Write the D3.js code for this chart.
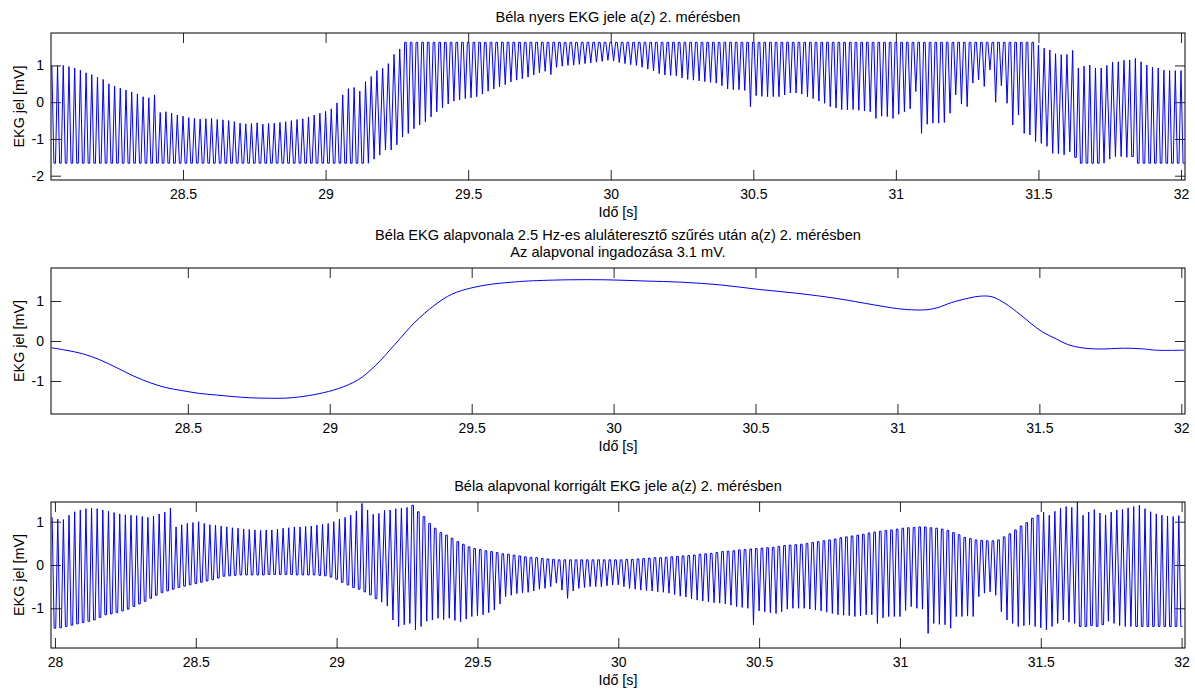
<!DOCTYPE html>
<html>
<head>
<meta charset="utf-8">
<script src="https://cdn.jsdelivr.net/npm/d3@7"></script>
<style>
  body { margin: 0; background: #fff; }
  svg { display: block; }
  text { font-family: "Liberation Sans", Arial, Helvetica, sans-serif; fill: #000; }
</style>
</head>
<body>
<svg id="chart" width="1195" height="693"></svg>
<script>
// ---------------- DATA ----------------
// Mains-dominated raw EKG: one peak and one trough per 20 ms cycle.
const cyclePeriod = 0.02;          // s
const rawStart = 28.04;            // time of first raw peak [s]
const rawClipHigh = 1.62;          // amplifier saturation levels seen in the raw trace
const rawClipLow = -1.65;
const rawPeaks = [
  0.99, 1.0, 1.0, 0.97, 0.93, 0.87, 0.8, 0.75, 0.68, 0.62,
  0.5, 0.44, 0.38, 0.33, 0.28, 0.22, 0.15, 0.12, 0.2, -0.28,
  -0.26, -0.3, -0.35, -0.38, -0.42, -0.44, -0.46, -0.45, -0.44, -0.47,
  -0.48, -0.5, -0.53, -0.57, -0.59, -0.58, -0.56, -0.6, -0.58, -0.57,
  -0.55, -0.53, -0.5, -0.47, -0.45, -0.4, -0.35, -0.3, -0.25, -0.18,
  -0.02, 0.2, 0.37, 0.4, 0.3, 0.56, 0.7, 0.86, 0.92, 1.05,
  1.3, 1.45, 1.63, 1.63, 1.63, 1.63, 1.63, 1.63, 1.63, 1.63,
  1.63, 1.63, 1.63, 1.63, 1.63, 1.63, 1.63, 1.63, 1.63, 1.63,
  1.63, 1.63, 1.63, 1.63, 1.63, 1.63, 1.63, 1.63, 1.63, 1.63,
  1.63, 1.63, 1.63, 1.63, 1.63, 1.63, 1.63, 1.63, 1.63, 1.63,
  1.63, 1.63, 1.63, 1.63, 1.63, 1.63, 1.63, 1.63, 1.63, 1.63,
  1.63, 1.63, 1.63, 1.63, 1.63, 1.63, 1.63, 1.63, 1.63, 1.63,
  1.63, 1.63, 1.63, 1.63, 1.63, 1.63, 1.63, 1.63, 1.63, 1.63,
  1.63, 1.63, 1.63, 1.63, 1.63, 1.63, 1.63, 1.63, 1.63, 1.63,
  1.63, 1.63, 1.63, 1.63, 1.63, 1.63, 1.63, 1.63, 1.63, 1.63,
  1.63, 1.63, 1.63, 1.63, 1.63, 1.63, 1.63, 1.63, 1.63, 1.63,
  1.63, 1.63, 1.63, 1.63, 1.63, 1.63, 1.63, 1.63, 1.63, 1.63,
  1.63, 1.63, 1.63, 1.55, 1.47, 1.42, 1.32, 1.29, 1.3, 1.41,
  0.93, 0.98, 1.01, 0.93, 0.93, 1.0, 1.09, 1.1, 1.14, 1.15,
  1.19, 1.1, 1.01, 0.95, 0.93, 0.87, 0.86, 0.86, 0.86
];
const rawTroughs = [
  -1.66, -1.66, -1.66, -1.66, -1.66, -1.66, -1.66, -1.66, -1.66, -1.66,
  -1.66, -1.66, -1.66, -1.66, -1.66, -1.66, -1.66, -1.66, -1.66, -1.66,
  -1.66, -1.66, -1.66, -1.66, -1.66, -1.66, -1.66, -1.66, -1.66, -1.66,
  -1.66, -1.66, -1.66, -1.66, -1.66, -1.66, -1.66, -1.66, -1.66, -1.66,
  -1.66, -1.66, -1.66, -1.66, -1.66, -1.66, -1.66, -1.66, -1.66, -1.66,
  -1.66, -1.66, -1.66, -1.66, -1.66, -1.66, -1.55, -1.44, -1.3, -1.3,
  -1.16, -0.95, -0.85, -0.72, -0.62, -0.53, -0.4, -0.26, -0.15, -0.05,
  0.03, 0.06, 0.1, 0.12, 0.15, 0.22, 0.3, 0.36, 0.42, 0.48,
  0.55, 0.6, 0.64, 0.68, 0.74, 0.8, 0.84, 0.75, 0.95, 0.98,
  1.0, 1.01, 1.03, 1.05, 1.07, 1.09, 1.11, 1.14, 1.12, 1.08,
  1.05, 1.02, 1.0, 0.95, 0.9, 0.85, 0.78, 0.74, 0.73, 0.72,
  0.66, 0.62, 0.6, 0.58, 0.56, 0.54, 0.52, 0.45, 0.36, 0.34,
  0.34, 0.32, -0.12, 0.18, 0.16, 0.15, 0.15, 0.15, 0.2, 0.25,
  0.25, 0.22, 0.15, 0.1, 0.03, -0.03, -0.12, -0.16, -0.2, -0.21,
  -0.2, -0.22, -0.24, -0.26, -0.44, -0.38, -0.39, -0.44, -0.33, -0.26,
  -0.18, 0.29, -0.85, -0.6, -0.57, -0.57, -0.55, -0.3, 0.2, -0.05,
  -0.12, 0.52, 0.61, 0.43, 0.88, 0.0, 0.45, -0.03, -0.62, -0.35,
  -0.85, -0.89, -1.07, -1.12, -1.2, -1.39, -1.4, -1.43, -1.35, -1.5,
  -1.66, -1.66, -1.66, -1.66, -1.66, -1.55, -1.48, -1.48, -1.5, -1.48,
  -1.66, -1.66, -1.66, -1.66, -1.66, -1.66, -1.66, -1.66, -1.66
];

// Baseline after 2.5 Hz low-pass filtering
const baseTimes = [
  28.02, 28.07, 28.13, 28.19, 28.25, 28.31, 28.37, 28.42, 28.48, 28.54,
  28.6, 28.66, 28.72, 28.78, 28.84, 28.89, 28.96, 29.03, 29.1, 29.16,
  29.23, 29.3, 29.37, 29.43, 29.5, 29.57, 29.64, 29.7, 29.84, 29.97,
  30.11, 30.24, 30.38, 30.51, 30.65, 30.78, 30.92, 31.0, 31.05, 31.1,
  31.14, 31.19, 31.25, 31.29, 31.33, 31.37, 31.42, 31.47, 31.51, 31.56,
  31.6, 31.65, 31.71, 31.8, 31.87, 31.91, 32.01
];
const baseValues = [
  -0.17, -0.23, -0.32, -0.47, -0.67, -0.88, -1.05, -1.16, -1.24, -1.31,
  -1.35, -1.39, -1.42, -1.43, -1.43, -1.4, -1.32, -1.19, -0.97, -0.62,
  -0.08, 0.47, 0.9, 1.17, 1.33, 1.42, 1.47, 1.5, 1.53, 1.53,
  1.5, 1.47, 1.4, 1.29, 1.19, 1.07, 0.9, 0.81, 0.78, 0.78,
  0.83, 0.96, 1.07, 1.12, 1.11, 0.98, 0.73, 0.44, 0.23, 0.05,
  -0.09, -0.17, -0.2, -0.18, -0.2, -0.23, -0.23
];

// Baseline-corrected EKG
const corrStart = 27.99;           // time of first corrected peak [s]
const corrPeaks = [
  1.1, 1.06, 1.05, 1.15, 1.23, 1.27, 1.3, 1.31, 1.3, 1.27,
  1.24, 1.21, 1.18, 1.16, 1.15, 1.14, 1.12, 1.1, 1.13, 1.18,
  1.22, 1.31, 0.88, 0.93, 0.96, 0.98, 1.0, 0.96, 0.93, 0.92,
  0.9, 0.88, 0.86, 0.85, 0.83, 0.82, 0.81, 0.8, 0.81, 0.81,
  0.83, 0.85, 0.86, 0.88, 0.88, 0.89, 0.9, 0.92, 0.94, 0.96,
  1.0, 1.06, 1.1, 1.15, 1.25, 1.42, 1.27, 1.17, 1.19, 1.26,
  1.27, 1.3, 1.31, 1.33, 1.38, 1.23, 1.12, 0.96, 0.85, 0.75,
  0.69, 0.62, 0.54, 0.48, 0.42, 0.38, 0.36, 0.33, 0.31, 0.29,
  0.26, 0.25, 0.23, 0.21, 0.19, 0.18, 0.17, 0.15, 0.14, 0.13,
  0.12, 0.12, 0.12, 0.12, 0.12, 0.12, 0.12, 0.12, 0.12, 0.12,
  0.12, 0.12, 0.13, 0.13, 0.14, 0.15, 0.16, 0.17, 0.17, 0.18,
  0.19, 0.2, 0.21, 0.22, 0.23, 0.25, 0.26, 0.27, 0.29, 0.31,
  0.32, 0.33, 0.35, 0.36, 0.37, 0.38, 0.39, 0.4, 0.41, 0.43,
  0.45, 0.46, 0.47, 0.48, 0.5, 0.52, 0.54, 0.56, 0.58, 0.6,
  0.63, 0.65, 0.67, 0.69, 0.71, 0.74, 0.76, 0.78, 0.8, 0.81,
  0.83, 0.85, 0.86, 0.87, 0.88, 0.88, 0.86, 0.85, 0.83, 0.8,
  0.75, 0.7, 0.64, 0.61, 0.58, 0.57, 0.56, 0.56, 0.58, 0.65,
  0.72, 0.81, 0.9, 0.98, 1.08, 1.15, 1.22, 1.15, 1.24, 1.31,
  1.35, 1.33, 1.46, 1.15, 1.22, 1.28, 1.2, 1.15, 1.22, 1.27,
  1.28, 1.32, 1.35, 1.38, 1.3, 1.23, 1.18, 1.15, 1.13, 1.12,
  1.14
];
const corrTroughs = [
  -1.46, -1.45, -1.42, -1.39, -1.36, -1.33, -1.3, -1.27, -1.21, -1.15,
  -1.13, -1.1, -1.06, -1.02, -0.96, -0.9, -0.84, -0.77, -0.7, -0.64,
  -0.6, -0.56, -0.52, -0.49, -0.46, -0.43, -0.4, -0.37, -0.34, -0.3,
  -0.26, -0.25, -0.24, -0.23, -0.23, -0.23, -0.23, -0.23, -0.22, -0.22,
  -0.22, -0.22, -0.22, -0.23, -0.23, -0.23, -0.23, -0.24, -0.25, -0.28,
  -0.33, -0.4, -0.46, -0.52, -0.56, -0.62, -0.69, -0.78, -0.86, -0.95,
  -1.27, -1.42, -1.38, -1.35, -1.5, -1.42, -1.3, -1.27, -1.23, -1.26,
  -1.23, -1.28, -1.31, -1.25, -1.19, -1.17, -1.15, -1.1, -1.04, -0.9,
  -0.73, -0.7, -0.66, -0.64, -0.63, -0.6, -0.56, -0.54, -0.5, -0.42,
  -0.58, -0.77, -0.6, -0.54, -0.52, -0.5, -0.5, -0.5, -0.48, -0.46,
  -0.46, -0.5, -0.54, -0.56, -0.58, -0.59, -0.6, -0.62, -0.63, -0.65,
  -0.68, -0.72, -0.74, -0.78, -0.81, -0.83, -0.85, -0.87, -0.88, -0.9,
  -0.93, -0.96, -0.98, -1.0, -1.38, -1.06, -1.08, -1.1, -1.12, -1.08,
  -1.02, -1.0, -1.0, -1.0, -1.02, -1.04, -1.06, -1.09, -1.12, -1.15,
  -1.16, -1.17, -1.19, -1.17, -1.15, -1.15, -1.35, -1.22, -1.19, -1.19,
  -1.19, -1.05, -0.96, -1.0, -1.02, -1.58, -1.35, -1.37, -1.38, -1.46,
  -1.19, -1.19, -1.18, -1.19, -0.73, -0.65, -0.62, -0.7, -1.08, -1.27,
  -1.35, -1.42, -1.4, -1.38, -1.42, -1.45, -1.5, -1.42, -1.35, -1.27,
  -1.32, -1.35, -1.42, -1.42, -1.4, -1.42, -1.38, -1.3, -1.35, -1.4,
  -1.42, -1.42, -1.42, -1.42, -1.42, -1.42, -1.42, -1.42, -1.42, -1.42,
  -1.42
];

// Axis tick values and texts
const xTicksMain = [28.5, 29, 29.5, 30, 30.5, 31, 31.5, 32];
const xTicksCorr = [28, 28.5, 29, 29.5, 30, 30.5, 31, 31.5, 32];
const yTicksRaw = [-2, -1, 0, 1];
const yTicks = [-1, 0, 1];
const titleRaw = ["Béla nyers EKG jele a(z) 2. mérésben"];
const titleBase = ["Béla EKG alapvonala 2.5 Hz-es aluláteresztő szűrés után a(z) 2. mérésben",
                   "Az alapvonal ingadozása 3.1 mV."];
const titleCorr = ["Béla alapvonal korrigált EKG jele a(z) 2. mérésben"];
const xLabel = "Idő [s]";
const yLabel = "EKG jel [mV]";

// ---------------- BUILD SERIES ----------------
// Saturation state of the raw trace at a given time (clipped parts are flat).
function rawIndexAt(t) {
  return Math.max(0, Math.min(rawPeaks.length - 1, Math.round((t - rawStart) / cyclePeriod)));
}
const rawPeakFlat = t => rawPeaks[rawIndexAt(t)] >= rawClipHigh;
const rawTroughFlat = t => rawTroughs[rawIndexAt(t)] <= rawClipLow;

function oscillation(start, peaks, troughs) {
  const T = cyclePeriod, hold = T * 0.14;
  const pts = [];
  peaks.forEach((p, i) => {
    const tp = start + i * T;
    if (rawPeakFlat(tp)) { pts.push([tp - hold, p], [tp + hold, p]); }
    else pts.push([tp, p]);
    if (i < troughs.length) {
      const tt = tp + T / 2;
      if (rawTroughFlat(tt)) { pts.push([tt - hold, troughs[i]], [tt + hold, troughs[i]]); }
      else pts.push([tt, troughs[i]]);
    }
  });
  return pts;
}
const rawSeries = oscillation(rawStart, rawPeaks, rawTroughs);
const baseSeries = baseTimes.map((t, i) => [t, baseValues[i]]);
const corrSeries = oscillation(corrStart, corrPeaks, corrTroughs);

// ---------------- LAYOUT ----------------
const left = 51, right = 1185;
const panels = [
  { top: 33,  bottom: 180, xd: [28.037, 32.014], yd: [-2.117, 1.883], xt: xTicksMain, yt: yTicksRaw,
    series: rawSeries, title: titleRaw, curve: d3.curveLinear },
  { top: 268, bottom: 414, xd: [28.018, 32.013], yd: [-1.825, 1.825], xt: xTicksMain, yt: yTicks,
    series: baseSeries, title: titleBase, curve: d3.curveCatmullRom.alpha(0.5) },
  { top: 502, bottom: 648, xd: [27.986, 32.012], yd: [-1.917, 1.455], xt: xTicksCorr, yt: yTicks,
    series: corrSeries, title: titleCorr, curve: d3.curveLinear }
];

const svg = d3.select("#chart");
const tickFont = 14, titleFont = 14.6, labelFont = 14.3;
const tickLen = 10;

panels.forEach((p, k) => {
  const x = d3.scaleLinear().domain(p.xd).range([left, right]);
  const y = d3.scaleLinear().domain(p.yd).range([p.bottom, p.top]);
  const g = svg.append("g");

  const clipId = "clip" + k;
  svg.append("clipPath").attr("id", clipId)
    .append("rect").attr("x", left).attr("y", p.top)
    .attr("width", right - left).attr("height", p.bottom - p.top);

  const line = d3.line().x(d => x(d[0])).y(d => y(d[1])).curve(p.curve);
  g.append("path").datum(p.series)
    .attr("clip-path", `url(#${clipId})`)
    .attr("fill", "none").attr("stroke", "#0000ff").attr("stroke-width", 1)
    .attr("d", line);

  const fmt = d => String(d);
  const ax = g.append("g").attr("transform", `translate(0,${p.bottom})`)
    .call(d3.axisBottom(x).tickValues(p.xt).tickSize(-tickLen).tickPadding(9).tickFormat(fmt));
  const axTop = g.append("g").attr("transform", `translate(0,${p.top})`)
    .call(d3.axisTop(x).tickValues(p.xt).tickSize(-tickLen).tickFormat(""));
  const ay = g.append("g").attr("transform", `translate(${left},0)`)
    .call(d3.axisLeft(y).tickValues(p.yt).tickSize(-tickLen).tickPadding(7).tickFormat(fmt));
  const ayR = g.append("g").attr("transform", `translate(${right},0)`)
    .call(d3.axisRight(y).tickValues(p.yt).tickSize(-tickLen).tickFormat(""));
  [ax, axTop, ay, ayR].forEach(a => {
    a.select(".domain").remove();
    a.selectAll(".tick line").attr("stroke", "#262626").attr("stroke-width", 1);
    a.selectAll(".tick text").attr("font-size", tickFont).attr("fill", "#000")
      .attr("font-family", '"Liberation Sans", Arial, sans-serif');
  });

  g.append("rect").attr("x", left).attr("y", p.top)
    .attr("width", right - left).attr("height", p.bottom - p.top)
    .attr("fill", "none").attr("stroke", "#000").attr("stroke-width", 1);

  const n = p.title.length;
  p.title.forEach((t, i) => {
    g.append("text").attr("x", (left + right) / 2)
      .attr("y", p.top - 16 - (n - 1 - i) * 17)
      .attr("dy", "0.35em").attr("text-anchor", "middle")
      .attr("font-size", titleFont).text(t);
  });

  g.append("text").attr("x", (left + right) / 2).attr("y", p.bottom + 32)
    .attr("dy", "0.35em").attr("text-anchor", "middle")
    .attr("font-size", labelFont).text(xLabel);

  g.append("text")
    .attr("transform", `translate(19,${(p.top + p.bottom) / 2}) rotate(-90)`)
    .attr("dy", "0.35em").attr("text-anchor", "middle")
    .attr("font-size", labelFont).text(yLabel);
});
</script>
</body>
</html>
